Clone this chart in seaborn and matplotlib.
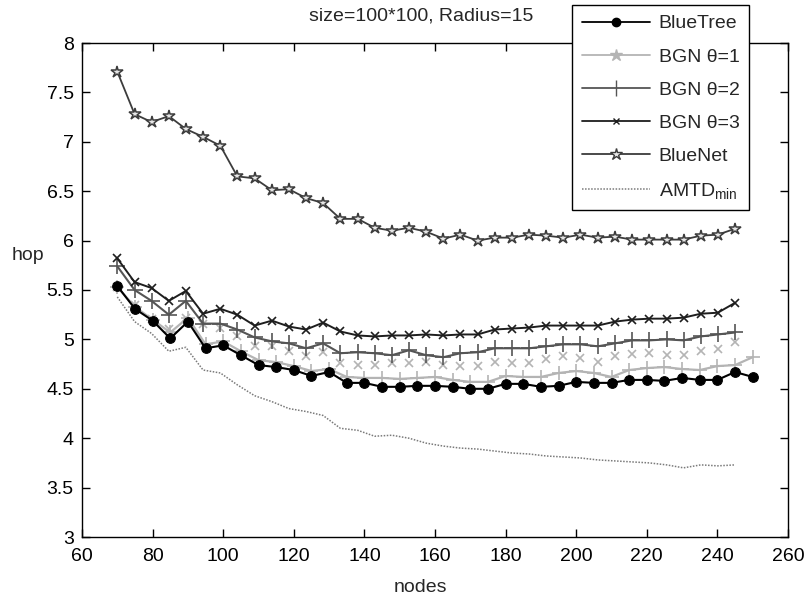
import numpy as np
import pandas as pd
import matplotlib
matplotlib.use('Agg')
import matplotlib.pyplot as plt
from matplotlib.lines import Line2D
import seaborn as sns

# ---------------- data ----------------
nodes_a = [70, 75, 80, 85, 90, 95, 100, 105, 110, 115, 120, 125, 130, 135, 140, 145,
           150, 155, 160, 165, 170, 175, 180, 185, 190, 195, 200, 205, 210, 215, 220,
           225, 230, 235, 240, 245, 250]
nodes_b = [70.0, 74.9, 79.7, 84.6, 89.4, 94.3, 99.2, 104.0, 108.9, 113.8, 118.6, 123.5,
           128.3, 133.2, 138.1, 142.9, 147.8, 152.6, 157.5, 162.4, 167.2, 172.1, 176.9,
           181.8, 186.7, 191.5, 196.4, 201.2, 206.1, 211.0, 215.8, 220.7, 225.6, 230.4,
           235.3, 240.1, 245.0]

bluetree = [5.54, 5.31, 5.19, 5.01, 5.18, 4.91, 4.94, 4.84, 4.74, 4.72, 4.69, 4.63, 4.67,
            4.56, 4.56, 4.52, 4.52, 4.53, 4.53, 4.52, 4.50, 4.50, 4.55, 4.55, 4.52, 4.53,
            4.57, 4.56, 4.56, 4.59, 4.59, 4.58, 4.61, 4.59, 4.59, 4.67, 4.62]
bgn1 = [5.53, 5.33, 5.20, 5.07, 5.22, 4.95, 4.98, 4.88, 4.79, 4.77, 4.73, 4.68, 4.70,
        4.62, 4.61, 4.61, 4.60, 4.61, 4.62, 4.59, 4.57, 4.57, 4.63, 4.62, 4.62, 4.66,
        4.68, 4.66, 4.62, 4.69, 4.71, 4.72, 4.70, 4.69, 4.73, 4.74, 4.82]
bgn1_x = [5.53, 5.35, 5.21, 5.11, 5.22, 5.16, 5.12, 5.03, 4.93, 4.93, 4.88, 4.83, 4.87,
          4.76, 4.74, 4.74, 4.76, 4.76, 4.77, 4.74, 4.73, 4.73, 4.77, 4.76, 4.76, 4.80,
          4.83, 4.81, 4.77, 4.83, 4.85, 4.86, 4.84, 4.84, 4.88, 4.90, 4.97]
bgn2 = [5.74, 5.50, 5.39, 5.25, 5.39, 5.16, 5.16, 5.10, 5.02, 4.98, 4.96, 4.91, 4.96,
        4.86, 4.87, 4.86, 4.84, 4.89, 4.84, 4.82, 4.86, 4.87, 4.91, 4.91, 4.91, 4.93,
        4.95, 4.95, 4.93, 4.96, 4.99, 4.99, 5.00, 4.99, 5.03, 5.05, 5.07]
bgn3 = [5.82, 5.58, 5.52, 5.39, 5.49, 5.26, 5.31, 5.25, 5.14, 5.19, 5.13, 5.10, 5.17,
        5.08, 5.04, 5.03, 5.04, 5.04, 5.05, 5.04, 5.05, 5.05, 5.10, 5.11, 5.12, 5.14,
        5.14, 5.14, 5.14, 5.18, 5.20, 5.21, 5.21, 5.22, 5.26, 5.27, 5.37]
bluenet = [7.71, 7.28, 7.20, 7.26, 7.13, 7.05, 6.96, 6.65, 6.63, 6.51, 6.52, 6.43, 6.38,
           6.22, 6.22, 6.13, 6.10, 6.13, 6.09, 6.02, 6.06, 6.00, 6.03, 6.03, 6.06, 6.05,
           6.03, 6.06, 6.03, 6.04, 6.01, 6.01, 6.01, 6.01, 6.05, 6.06, 6.12]
amtd = [5.43, 5.18, 5.06, 4.88, 4.92, 4.69, 4.66, 4.54, 4.43, 4.37, 4.30, 4.27, 4.23,
        4.10, 4.08, 4.02, 4.03, 4.00, 3.95, 3.92, 3.90, 3.89, 3.87, 3.85, 3.84, 3.82,
        3.81, 3.80, 3.78, 3.77, 3.76, 3.75, 3.73, 3.70, 3.73, 3.72, 3.73]

x_ticks = [60, 80, 100, 120, 140, 160, 180, 200, 220, 240, 260]
y_ticks = [3, 3.5, 4, 4.5, 5, 5.5, 6, 6.5, 7, 7.5, 8]

labels = ['BlueTree', 'BGN θ=1', 'BGN θ=2', 'BGN θ=3', 'BlueNet', 'AMTD$_{\\rm min}$']

# ---------------- style ----------------
sns.set_style('ticks')
plt.rcParams['font.family'] = ['Liberation Sans', 'DejaVu Sans']
plt.rcParams['mathtext.fontset'] = 'custom'
plt.rcParams['mathtext.rm'] = 'Liberation Sans'
plt.rcParams['mathtext.it'] = 'Liberation Sans'
plt.rcParams['font.size'] = 14

W, H = 805, 603
fig = plt.figure(figsize=(W / 100, H / 100), dpi=100)
fig.patch.set_facecolor('white')
L, R, T, B = 82, 788, 43, 537
ax = fig.add_axes([L / W, 1 - B / H, (R - L) / W, (B - T) / H])
ax.set_facecolor('white')

c_tree = '#000000'
c_b1 = '#b4b4b4'
c_b2 = '#555555'
c_b3 = '#1e1e1e'
c_net = '#3c3c3c'
c_amtd = '#7a7a7a'

sns.lineplot(x=nodes_b, y=amtd, ax=ax, color=c_amtd, lw=1.1, linestyle=(0, (1, 1)),
             estimator=None, sort=False)
sns.lineplot(x=nodes_b, y=bgn1_x, ax=ax, color=c_b1, lw=0, marker='x', markersize=6,
             markeredgecolor=c_b1, markeredgewidth=1.2, estimator=None, sort=False)
sns.lineplot(x=nodes_a, y=bgn1, ax=ax, color=c_b1, lw=1.6, marker='+', markersize=10,
             markeredgecolor=c_b1, markeredgewidth=1.2, estimator=None, sort=False)
sns.lineplot(x=nodes_b, y=bgn2, ax=ax, color=c_b2, lw=1.5, marker='+', markersize=11,
             markeredgecolor=c_b2, markeredgewidth=1.2, estimator=None, sort=False)
sns.lineplot(x=nodes_b, y=bgn3, ax=ax, color=c_b3, lw=1.4, marker='x', markersize=5.5,
             markeredgecolor=c_b3, markeredgewidth=1.2, estimator=None, sort=False)
sns.lineplot(x=nodes_b, y=bluenet, ax=ax, color=c_net, lw=1.3, marker='*', markersize=9,
             markerfacecolor='#e6e6e6', markeredgecolor=c_net, markeredgewidth=1.1,
             estimator=None, sort=False)
sns.lineplot(x=nodes_a, y=bluetree, ax=ax, color=c_tree, lw=1.5, marker='o', markersize=7,
             markerfacecolor=c_tree, markeredgecolor=c_tree, estimator=None, sort=False)

ax.set_xlim(60, 260)
ax.set_ylim(3, 8)
ax.set_xticks(x_ticks)
ax.set_yticks(y_ticks)
ax.set_xticklabels([f'{v:g}' for v in x_ticks])
ax.set_yticklabels([f'{v:g}' for v in y_ticks])
ax.tick_params(axis='both', direction='in', top=True, right=True, length=6, width=1,
               labelsize=14, colors='black')
ax.tick_params(axis='x', pad=8)
ax.tick_params(axis='y', pad=6)
for s in ax.spines.values():
    s.set_visible(True)
    s.set_color('black')
    s.set_linewidth(1)

ax.set_xlabel('nodes', fontsize=14)
ax.xaxis.set_label_coords((420 - L) / (R - L), (B - 588) / (B - T))
ax.xaxis.label.set_va('center')
ax.set_ylabel('hop', fontsize=14, rotation=0)
ax.yaxis.set_label_coords((28 - L) / (R - L), (B - 256) / (B - T))
ax.yaxis.label.set_va('center')
ax.yaxis.label.set_ha('center')

fig.text(421 / W, 1 - 16 / H, 'size=100*100, Radius=15', ha='center', va='center', fontsize=14)

handles = [
    Line2D([], [], color=c_tree, lw=1.3, marker='o', markersize=6),
    Line2D([], [], color=c_b1, lw=1.3, marker='*', markersize=9),
    Line2D([], [], color=c_b2, lw=1.3, marker='|', markersize=12),
    Line2D([], [], color=c_b3, lw=1.3, marker='x', markersize=5),
    Line2D([], [], color=c_net, lw=1.3, marker='*', markersize=9,
           markerfacecolor='#e6e6e6', markeredgecolor=c_net),
    Line2D([], [], color=c_amtd, lw=1.1, linestyle=(0, (1, 1))),
]
leg = ax.legend(handles, labels, loc='upper left',
                bbox_to_anchor=((572 - L) / (R - L), (B - 5) / (B - T)),
                borderaxespad=0, frameon=True, fancybox=False, edgecolor='black',
                fontsize=14, handlelength=3.5, handletextpad=0.45, labelspacing=0.8,
                borderpad=0.5)
leg.get_frame().set_linewidth(1)
leg.get_frame().set_facecolor('white')
leg.get_frame().set_alpha(1)

fig.savefig('out.png', dpi=100, facecolor='white')
